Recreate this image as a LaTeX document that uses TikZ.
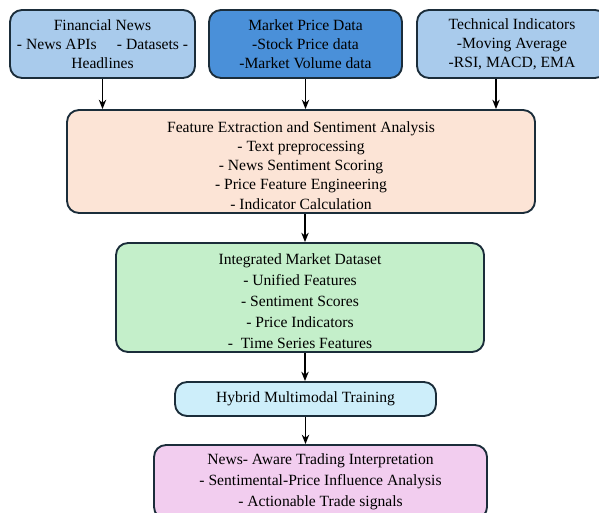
\documentclass[tikz,border=0pt]{standalone}
\usepackage{fontspec}
\setmainfont{Liberation Serif}
\usetikzlibrary{arrows.meta}
\definecolor{edgenavy}{HTML}{1B2D3A}
\definecolor{newsblue}{HTML}{A9CBEC}
\definecolor{priceblue}{HTML}{4A90D9}
\definecolor{featpeach}{HTML}{FCE4D6}
\definecolor{datagreen}{HTML}{C4EFCA}
\definecolor{trainblue}{HTML}{CDEEFA}
\definecolor{outpink}{HTML}{F2CDEF}
\begin{document}
\begin{tikzpicture}[x=0.75pt,y=-0.75pt,
  block/.style={draw=edgenavy,line width=1.4pt,rounded corners=9pt,align=center,
    inner sep=2pt,font=\fontsize{11.7}{14.4}\selectfont},
  flow/.style={-{Stealth[length=7pt,width=5.5pt]},line width=1.4pt,black}]
\useasboundingbox (0,0) rectangle (599,513);

% sources
\node[block,fill=newsblue,minimum width=138.75pt,minimum height=51pt] (news) at (102.5,44)
  {Financial News\\- News APIs\hspace{1.3em}- Datasets -\\Headlines};
\node[block,fill=priceblue,minimum width=144.75pt,minimum height=51pt] (price) at (305.5,44)
  {Market Price Data\\-Stock Price data\\-Market Volume data};
\node[block,fill=newsblue,minimum width=142.5pt,minimum height=51pt] (tech) at (512,44)
  {Technical Indicators\\-Moving Average\\-RSI, MACD, EMA};

% processing chain
\node[block,fill=featpeach,minimum width=351pt,minimum height=77.25pt] (feat) at (301,161.5)
  {\rule{0pt}{14pt}Feature Extraction and Sentiment Analysis\\- Text preprocessing\\- News Sentiment Scoring\\
   - Price Feature Engineering\\- Indicator Calculation};
\node[block,fill=datagreen,minimum width=276pt,minimum height=81.75pt,
  font=\fontsize{11.7}{15.8}\selectfont] (data) at (300,297.5)
  {\rule{0pt}{14pt}Integrated Market Dataset\\- Unified Features\\- Sentiment Scores\\- Price Indicators\\
   -\ \ Time Series Features};
\node[block,fill=trainblue,minimum width=195.75pt,minimum height=25.5pt] (train) at (305.5,399)
  {Hybrid Multimodal Training};
\node[block,fill=outpink,minimum width=249.75pt,minimum height=55.5pt,
  font=\fontsize{11.7}{15.6}\selectfont] (interp) at (320.5,482)
  {News- Aware Trading Interpretation\\- Sentimental-Price Influence Analysis\\- Actionable Trade signals};

\draw[flow] (news.south) -- (news.south |- feat.north);
\draw[flow] (price.south) -- (price.south |- feat.north);
\draw[flow] ([xshift=-12pt]tech.south) -- ([xshift=-12pt]tech.south |- feat.north);
\draw[flow] ([xshift=3pt]feat.south) -- ([xshift=3pt]feat.south |- data.north);
\draw[flow] ([xshift=3.75pt]data.south) -- ([xshift=3.75pt]data.south |- train.north);
\draw[flow] (train.south) -- (train.south |- interp.north);
\end{tikzpicture}
\end{document}
